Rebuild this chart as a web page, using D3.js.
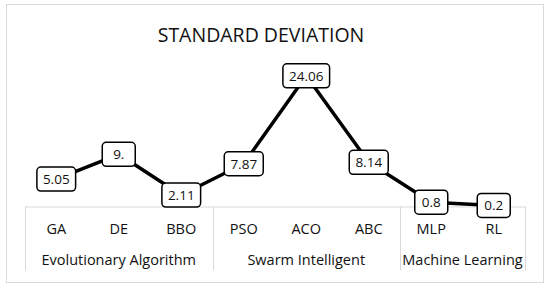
<!DOCTYPE html>
<head>
  <meta charset="utf-8">
  <script src="https://d3js.org/d3.v7.min.js"></script>
  <style>
    body { margin: 0; background: #fff; }
    svg { font-family: "Open Sans", "Noto Sans", sans-serif; }
  </style>
</head>
<body>
<script type='text/javascript'>
  var methods = ["GA", "DE", "BBO", "PSO", "ACO", "ABC", "MLP", "RL"];
  var stdValues = [5.05, 9.6, 2.11, 7.87, 24.06, 8.14, 0.8, 0.2];
  var valueLabels = ["5.05", "9.", "2.11", "7.87", "24.06", "8.14", "0.8", "0.2"];
  var groups = ["Evolutionary Algorithm", "Swarm Intelligent", "Machine Learning"];
  var groupSizes = [3, 3, 2];

  var width = 550, height = 289;
  var margin = { top: 43, left: 25, right: 25, bottom: 82.5 };

  var svg = d3.select('body').append('svg')
    .attr('width', width)
    .attr('height', height);

  // outer frame
  svg.append('rect')
    .attr('x', 6.5).attr('y', 4.5)
    .attr('width', 537).attr('height', 278)
    .attr('fill', '#fff')
    .attr('stroke', '#d9d9d9');

  svg.append('text')
    .attr('x', 261).attr('y', 42)
    .attr('text-anchor', 'middle')
    .attr('font-size', 19.5)
    .attr('fill', '#111')
    .text('STANDARD DEVIATION');

  var xScale = d3.scaleBand()
    .domain(methods)
    .range([margin.left, width - margin.right]);

  var yScale = d3.scaleLinear()
    .domain([0, 30])
    .range([height - margin.bottom, height - margin.bottom - 163]);

  var axisY = yScale(0);

  // category axis
  var xAxis = d3.axisBottom(xScale).tickSize(0).tickPadding(17);
  var gx = svg.append('g')
    .attr('transform', 'translate(0,' + axisY + ')')
    .call(xAxis);
  gx.attr('font-size', 14.5).attr('font-family', '"Open Sans", sans-serif');
  gx.select('.domain').attr('stroke', '#d9d9d9');
  gx.selectAll('text').attr('fill', '#111');

  // group dividers and labels
  var idx = 0;
  var bounds = [xScale(methods[0])];
  groupSizes.forEach(function (n, g) {
    var start = xScale(methods[idx]);
    var end = xScale(methods[idx + n - 1]) + xScale.bandwidth();
    bounds.push(end);
    svg.append('text')
      .attr('x', (start + end) / 2)
      .attr('y', axisY + 58.5)
      .attr('text-anchor', 'middle')
      .attr('font-size', 14.5)
      .attr('fill', '#111')
      .text(groups[g]);
    idx += n;
  });
  svg.selectAll('line.div').data(bounds).enter().append('line')
    .attr('class', 'div')
    .attr('x1', function (d) { return Math.round(d) + 0.5; })
    .attr('x2', function (d) { return Math.round(d) + 0.5; })
    .attr('y1', axisY)
    .attr('y2', axisY + 64)
    .attr('stroke', '#d9d9d9');

  var pts = methods.map(function (m, i) {
    return { name: m, value: stdValues[i], label: valueLabels[i] };
  });

  var line = d3.line()
    .x(function (d) { return xScale(d.name) + xScale.bandwidth() / 2; })
    .y(function (d) { return yScale(d.value); });

  svg.append('path')
    .datum(pts)
    .attr('d', line)
    .attr('fill', 'none')
    .attr('stroke', '#000')
    .attr('stroke-width', 3.5)
    .attr('stroke-linejoin', 'round');

  // data labels in rounded boxes
  var lab = svg.selectAll('g.lab').data(pts).enter().append('g')
    .attr('class', 'lab')
    .attr('transform', function (d) {
      return 'translate(' + (xScale(d.name) + xScale.bandwidth() / 2) + ',' + yScale(d.value) + ')';
    });
  lab.append('text')
    .attr('text-anchor', 'middle')
    .attr('dy', '0.36em')
    .attr('font-size', 13.5)
    .attr('fill', '#111')
    .text(function (d) { return d.label; });
  lab.each(function () {
    var g = d3.select(this);
    var bb = g.select('text').node().getBBox();
    var w = Math.max(bb.width + 12, 33), h = 24;
    g.insert('rect', 'text')
      .attr('x', -w / 2).attr('y', -h / 2)
      .attr('width', w).attr('height', h)
      .attr('rx', 4)
      .attr('fill', '#fff')
      .attr('stroke', '#000')
      .attr('stroke-width', 1.5);
  });
</script>
</body>
